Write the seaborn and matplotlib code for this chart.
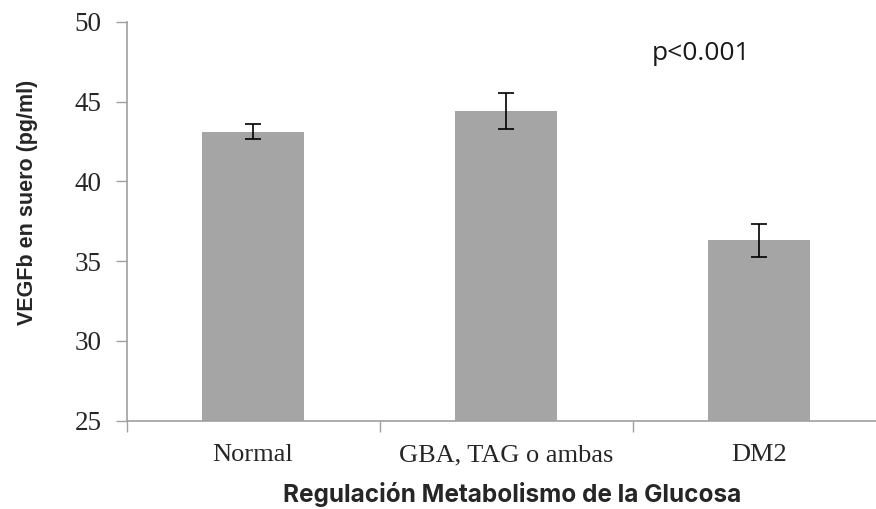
import matplotlib
matplotlib.use("Agg")
import matplotlib.pyplot as plt
import seaborn as sns
import pandas as pd

categories = ["Normal", "GBA, TAG o ambas", "DM2"]
means = [43.1, 44.4, 36.3]
errors = [0.47, 1.12, 1.05]
y_ticks = [25, 30, 35, 40, 45, 50]

sns.set_theme(style="white")
plt.rcParams["font.family"] = ["DejaVu Sans"]

df = pd.DataFrame({"grupo": categories, "vegfb": means})

W, H = 876, 509
fig = plt.figure(figsize=(W / 100, H / 100), dpi=100)
ax_left, ax_right = 126.5, 885.5
ax_top, ax_bottom = 21.7, 420.7
ax = fig.add_axes([ax_left / W, 1 - ax_bottom / H,
                   (ax_right - ax_left) / W, (ax_bottom - ax_top) / H])

sns.barplot(data=df, x="grupo", y="vegfb", color="#a5a5a5", saturation=1,
            width=0.4, errorbar=None, ax=ax, linewidth=0)

centers = [p.get_x() + p.get_width() / 2 for p in ax.patches]
ax.errorbar(centers, means, yerr=errors, fmt="none", ecolor="black",
            elinewidth=1.2, capsize=6, capthick=1.2, zorder=3)

ax.set_ylim(25, 50)
ax.set_xlim(-0.5, 2.5)
ax.set_yticks(y_ticks)
ax.set_yticklabels([str(t) for t in y_ticks], family="Liberation Serif", fontsize=19.5)

# category ticks sit at the boundaries between groups
ax.set_xticks([-0.5, 0.5, 1.5, 2.5])
ax.set_xticklabels([])
ax.set_xticks([0, 1, 2], minor=True)
ax.set_xticklabels(categories, minor=True, family="Liberation Serif", fontsize=19)
ax.tick_params(axis="x", which="minor", length=0, pad=17)
ax.tick_params(axis="x", which="major", direction="out", length=8, width=1,
               color="#a0a0a0", bottom=True)
ax.tick_params(axis="y", direction="out", length=8, width=1, color="#a0a0a0",
               left=True, pad=10)

for side in ["top", "right"]:
    ax.spines[side].set_visible(False)
for side in ["left", "bottom"]:
    ax.spines[side].set_color("#a0a0a0")
    ax.spines[side].set_linewidth(1.2)

ax.set_ylabel("VEGFb en suero (pg/ml)", family="Liberation Sans",
              fontweight="bold", fontsize=15.5)
ax.yaxis.set_label_coords(-0.117, 0.547)
ax.set_xlabel("Regulación Metabolismo de la Glucosa", family="Inter",
              fontweight="bold", fontsize=17.5)
ax.xaxis.set_label_coords(0.508, -0.153)

ax.text(1.77, 48.0, "p<0.001", family="Open Sans", fontsize=19,
        ha="center", va="center", color="#1a1a1a")

fig.savefig("out.png", dpi=100)
